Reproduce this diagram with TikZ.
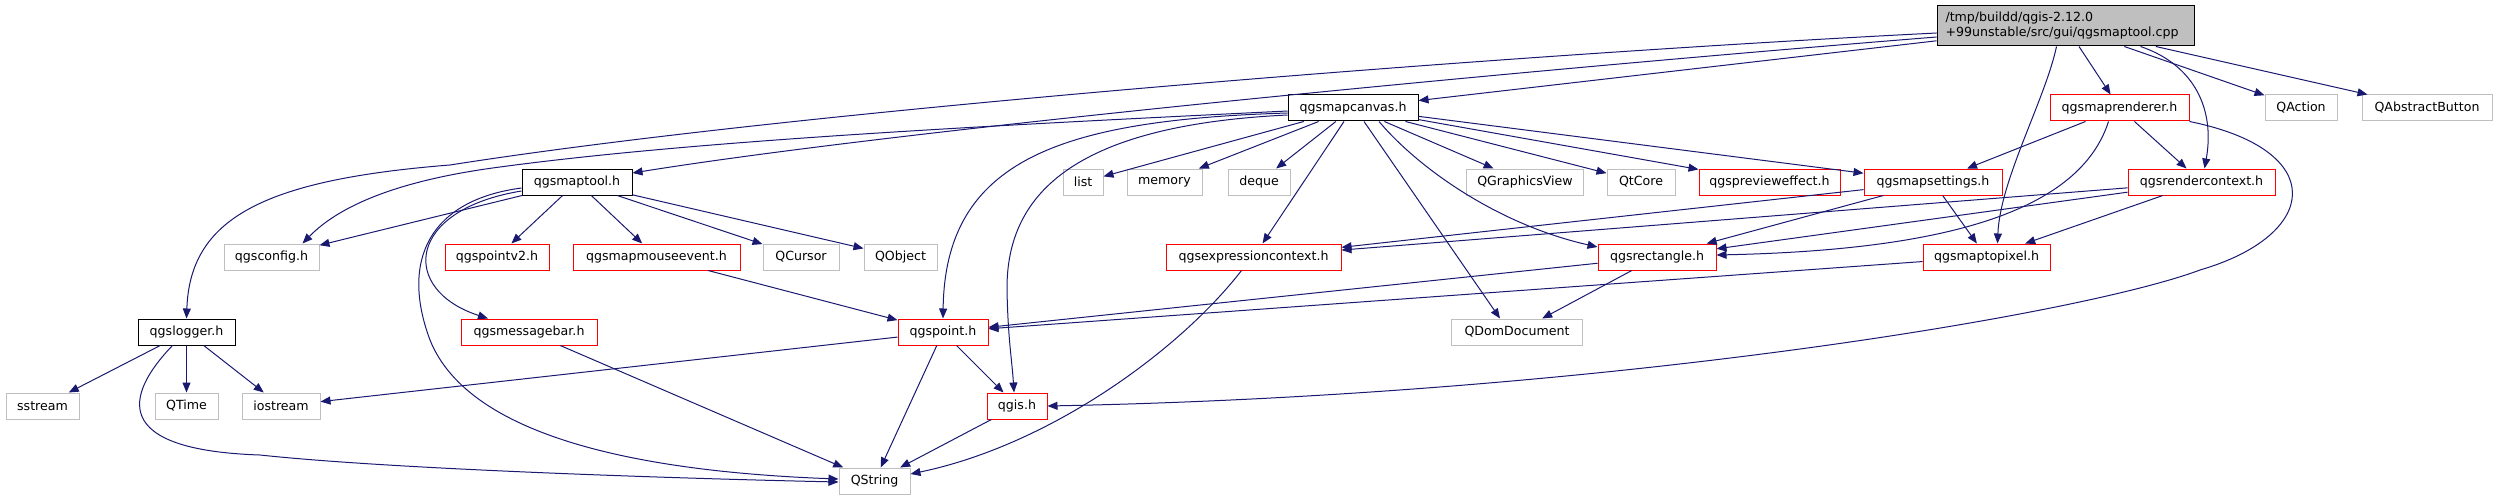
\documentclass[tikz,border=0pt]{standalone}
\usepackage{fontspec}
\setmainfont{DejaVu Sans}
\usetikzlibrary{arrows.meta,calc}
\definecolor{edgeblue}{HTML}{191970}
\definecolor{boxgray}{HTML}{BFBFBF}
\definecolor{boxred}{HTML}{FF0000}
\begin{document}
\begin{tikzpicture}[x=1pt,y=-1pt,
  font=\fontsize{12.6}{15}\selectfont,
  box/.style={rectangle, draw, line width=1pt, fill=white, text=black, inner sep=0pt, minimum height=26pt},
  blkbox/.style={box, draw=black},
  redbox/.style={box, draw=boxred},
  graybox/.style={box, draw=boxgray},
  dep/.style={draw=edgeblue, line width=1pt, -{Triangle[length=10pt,width=8pt]}}]
\useasboundingbox (0,0) rectangle (2497,500);
% nodes
\node[box, draw=black, fill=boxgray, minimum width=257pt, minimum height=40pt, text width=240pt, align=left] (main) at (2065.5,26) {/tmp/buildd/qgis-2.12.0\\+99unstable/src/gui/qgsmaptool.cpp};
\node[blkbox, minimum width=130pt] (mapcanvas) at (1353,108) {qgsmapcanvas.h};
\node[redbox, minimum width=139pt] (maprenderer) at (2119.5,108) {qgsmaprenderer.h};
\node[graybox, minimum width=72pt] (qaction) at (2301,108) {QAction};
\node[graybox, minimum width=130pt] (qabstractbutton) at (2427,108) {QAbstractButton};
\node[blkbox, minimum width=110pt] (maptool) at (577,182) {qgsmaptool.h};
\node[graybox, minimum width=40pt] (list) at (1083,182) {list};
\node[graybox, minimum width=75pt] (memory) at (1164.5,182) {memory};
\node[graybox, minimum width=62pt] (deque) at (1259,182) {deque};
\node[graybox, minimum width=117pt] (qgraphicsview) at (1525,182) {QGraphicsView};
\node[graybox, minimum width=68pt] (qtcore) at (1641,182) {QtCore};
\node[redbox, minimum width=141pt] (previeweffect) at (1769.5,182) {qgsprevieweffect.h};
\node[redbox, minimum width=138pt] (mapsettings) at (1933,182) {qgsmapsettings.h};
\node[redbox, minimum width=147pt] (rendercontext) at (2201.5,182) {qgsrendercontext.h};
\node[graybox, minimum width=95pt] (config) at (271.5,257) {qgsconfig.h};
\node[redbox, minimum width=104pt] (pointv2) at (497,257) {qgspointv2.h};
\node[redbox, minimum width=167pt] (mapmouseevent) at (656.5,257) {qgsmapmouseevent.h};
\node[graybox, minimum width=76pt] (qcursor) at (801,257) {QCursor};
\node[graybox, minimum width=73pt] (qobject) at (900.5,257) {QObject};
\node[redbox, minimum width=175pt] (exprcontext) at (1253.5,257) {qgsexpressioncontext.h};
\node[redbox, minimum width=118pt] (rectangle) at (1657,257) {qgsrectangle.h};
\node[redbox, minimum width=127pt] (maptopixel) at (1986.5,257) {qgsmaptopixel.h};
\node[blkbox, minimum width=97pt] (logger) at (186.5,332) {qgslogger.h};
\node[redbox, minimum width=136pt] (messagebar) at (529,332) {qgsmessagebar.h};
\node[redbox, minimum width=90pt] (point) at (943,332) {qgspoint.h};
\node[graybox, minimum width=131pt] (qdomdocument) at (1517,332) {QDomDocument};
\node[graybox, minimum width=73pt] (sstream) at (42.5,406) {sstream};
\node[graybox, minimum width=63pt] (qtime) at (186.5,406) {QTime};
\node[graybox, minimum width=78pt] (iostream) at (281,406) {iostream};
\node[redbox, minimum width=60pt] (qgis) at (1017,406) {qgis.h};
\node[graybox, minimum width=71pt] (qstring) at (874.5,481) {QString};
% edges from main
\draw[dep] (main) -- (mapcanvas);
\draw[dep] (main) -- (maprenderer);
\draw[dep] (main) -- (qaction);
\draw[dep] (main) -- (qabstractbutton);
\draw[dep] ($(main.west)+(0,11)$) .. controls (1500,72) and (900,130) .. ($(maptool.east)+(0,-9)$);
\draw[dep] ($(main.west)+(0,7)$) .. controls (1500,55) and (800,110) .. (450,165) .. controls (260,180) and (190,220) .. (logger.north);
\draw[dep] ($(main.south)+(-9,0)$) .. controls (2045,100) and (2000,180) .. ($(maptopixel.north)+(11,0)$);
\draw[dep] ($(main.south east)+(-54,0)$) .. controls (2195,65) and (2215,110) .. ($(rendercontext.north)+(3,0)$);
% edges from qgsmapcanvas.h
\foreach \t in {list,memory,deque,qgraphicsview,qtcore,previeweffect,mapsettings,exprcontext}
  \draw[dep] (mapcanvas) -- (\t);
\draw[dep] ($(mapcanvas.south)+(11,0)$) -- ($(qdomdocument.north)+(-17,0)$);
\draw[dep] ($(mapcanvas.south)+(26,0)$) .. controls (1420,170) and (1500,225) .. ($(rectangle.west)+(0,-10)$);
\draw[dep] ($(mapcanvas.west)+(0,5)$) .. controls (1060,120) and (945,160) .. (point.north);
\draw[dep] ($(mapcanvas.west)+(0,7)$) .. controls (1080,125) and (1006,190) .. (1007,290) .. controls (1008,340) and (1012,360) .. ($(qgis.north)+(-3,0)$);
\draw[dep] ($(mapcanvas.west)+(0,3)$) .. controls (1000,125) and (700,140) .. (500,167) .. controls (400,180) and (340,205) .. ($(config.north east)+(-17,0)$);
% edges from qgsmaptool.h
\foreach \t in {pointv2,mapmouseevent,qcursor,qobject,config}
  \draw[dep] (maptool) -- (\t);
\draw[dep] ($(maptool.west)+(0,9)$) .. controls (405,210) and (400,290) .. ($(messagebar.north)+(-41,0)$);
\draw[dep] ($(maptool.west)+(0,6)$) .. controls (430,200) and (400,260) .. (430,340) .. controls (470,440) and (650,472) .. ($(qstring.west)+(0,-2)$);
% edges from qgslogger.h
\foreach \t in {sstream,qtime,iostream}
  \draw[dep] (logger) -- (\t);
\draw[dep] ($(logger.south)+(-14,0)$) .. controls (125,395) and (110,450) .. (260,455) .. controls (400,470) and (700,479) .. ($(qstring.west)+(0,1)$);
% other edges
\draw[dep] (messagebar) -- (qstring);
\draw[dep] (mapmouseevent) -- (point);
\draw[dep] (point) -- (iostream);
\draw[dep] (point) -- (qgis);
\draw[dep] (point) -- (qstring);
\draw[dep] (qgis) -- (qstring);
\draw[dep] ($(exprcontext.south)+(-12,0)$) .. controls (1180,350) and (1050,445) .. ($(qstring.east)+(0,-7)$);
\draw[dep] (rectangle) -- (point);
\draw[dep] (rectangle) -- (qdomdocument);
\draw[dep] (maptopixel) -- (point);
\draw[dep] (mapsettings) -- (exprcontext);
\draw[dep] (mapsettings) -- (rectangle);
\draw[dep] (mapsettings) -- (maptopixel);
\draw[dep] (rendercontext) -- (exprcontext);
\draw[dep] (rendercontext) -- (rectangle);
\draw[dep] (rendercontext) -- (maptopixel);
\draw[dep] (maprenderer) -- (mapsettings);
\draw[dep] (maprenderer) -- (rendercontext);
\draw[dep] ($(maprenderer.south)+(-11,0)$) .. controls (2080,210) and (1950,250) .. ($(rectangle.east)+(0,-2)$);
\draw[dep] (maprenderer.south east) .. controls (2330,150) and (2320,235) .. (2200,270) .. controls (2080,315) and (1600,395) .. (qgis.east);
\end{tikzpicture}
\end{document}
